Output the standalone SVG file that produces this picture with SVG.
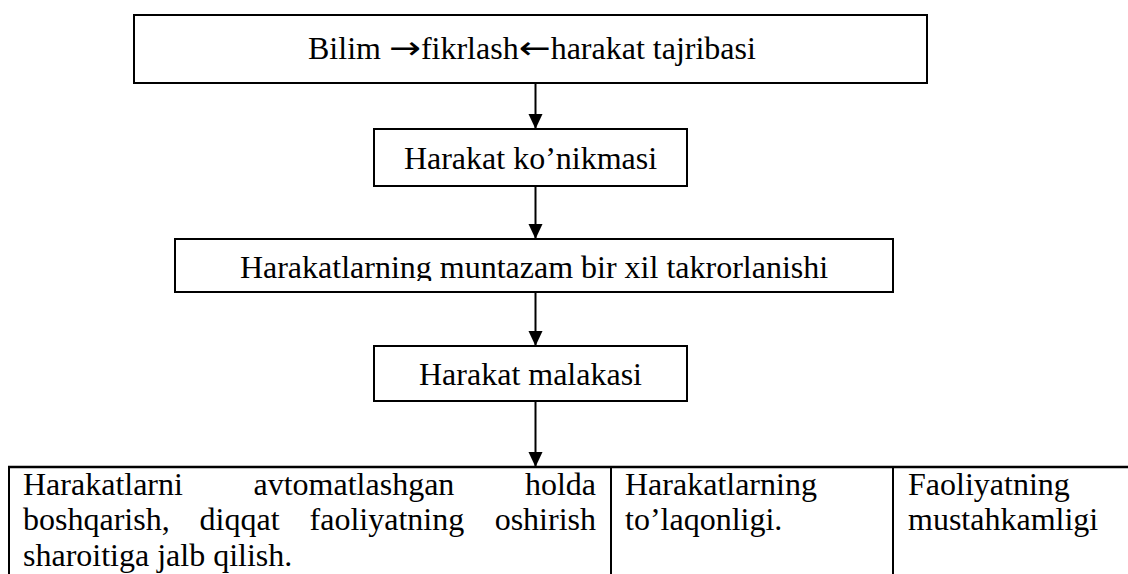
<svg xmlns="http://www.w3.org/2000/svg" width="1128" height="574" viewBox="0 0 1128 574">
<style>
.box{fill:#fff;stroke:#000;stroke-width:2}
.t{font-family:"Liberation Serif","Times New Roman",serif;font-size:32px;fill:#000}
.ar{font-family:"DejaVu Sans",sans-serif;font-size:32px}
.c{text-anchor:middle}
.ln{stroke:#000;stroke-width:2;fill:none}
.tb{stroke:#000;stroke-width:2.6;fill:none}
</style>
<defs>
<marker id="ah" markerWidth="14" markerHeight="16" refX="15" refY="7" orient="auto" markerUnits="userSpaceOnUse">
<path d="M0,0 L15,7 L0,14 Z" fill="#000"/>
</marker>
<clipPath id="clip3"><rect x="175" y="239" width="718" height="42"/></clipPath>
</defs>
<rect width="1128" height="574" fill="#fff"/>
<g id="connectors">
<line class="ln" x1="535.5" y1="83" x2="535.5" y2="129" marker-end="url(#ah)"/>
<line class="ln" x1="535.5" y1="186" x2="535.5" y2="239" marker-end="url(#ah)"/>
<line class="ln" x1="535.5" y1="292" x2="535.5" y2="346" marker-end="url(#ah)"/>
<line class="ln" x1="535.5" y1="401" x2="535.5" y2="467" marker-end="url(#ah)"/>
</g>
<g id="node-bilim">
<rect class="box" x="134" y="15" width="793" height="68"/>
<text class="t" x="308" y="59">Bilim <tspan class="ar" textLength="32" lengthAdjust="spacingAndGlyphs">→</tspan>fikrlash<tspan class="ar" textLength="32" lengthAdjust="spacingAndGlyphs">←</tspan>harakat tajribasi</text>
</g>
<g id="node-konikma">
<rect class="box" x="374" y="129" width="313" height="57"/>
<text class="t c" x="530.5" y="169">Harakat ko’nikmasi</text>
</g>
<g id="node-takror">
<rect class="box" x="175" y="239" width="718" height="53"/>
<text class="t c" x="534" y="278" clip-path="url(#clip3)">Harakatlarning muntazam bir xil takrorlanishi</text>
</g>
<g id="node-malaka">
<rect class="box" x="374" y="346" width="313" height="55"/>
<text class="t c" x="530.5" y="385">Harakat malakasi</text>
</g>
<g id="node-table">
<line class="tb" x1="8" y1="467" x2="1128" y2="467"/>
<line class="ln" x1="9" y1="466" x2="9" y2="574"/>
<line class="ln" x1="611" y1="467" x2="611" y2="574"/>
<line class="ln" x1="893" y1="467" x2="893" y2="574"/>
<text class="t" y="495"><tspan x="23">Harakatlarni</tspan><tspan x="253.5">avtomatlashgan</tspan><tspan x="596" text-anchor="end">holda</tspan></text>
<text class="t" y="530"><tspan x="23">boshqarish,</tspan><tspan x="199.6">diqqat</tspan><tspan x="309.6">faoliyatning</tspan><tspan x="596" text-anchor="end">oshirish</tspan></text>
<text class="t" x="23" y="566">sharoitiga jalb qilish.</text>
<text class="t" x="625" y="495">Harakatlarning</text>
<text class="t" x="625" y="530">to’laqonligi.</text>
<text class="t" x="908" y="495">Faoliyatning</text>
<text class="t" x="908" y="530">mustahkamligi</text>
</g>
</svg>
